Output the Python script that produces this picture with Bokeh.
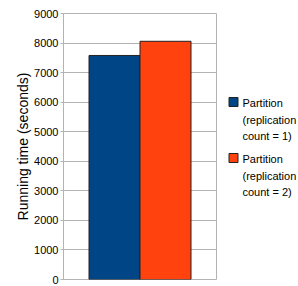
from bokeh.plotting import figure
from bokeh.models import ColumnDataSource, Range1d, FixedTicker
from bokeh.layouts import row
from bokeh.core.properties import value
from bokeh.embed import file_html
from bokeh.resources import INLINE

# data
series = ["Partition\n(replication\ncount = 1)", "Partition\n(replication\ncount = 2)"]
running_time = [7580, 8060]
bar_pos = [1, 2]
colors = ["#004586", "#ff420e"]
y_ticks = [0, 1000, 2000, 3000, 4000, 5000, 6000, 7000, 8000, 9000]

FONT = "Liberation Sans"
GRID = "#b3b3b3"
EDGE = "#222222"

p = figure(title=None, frame_width=153, frame_height=266, output_backend="svg", toolbar_location=None,
           x_range=Range1d(0, 3), y_range=Range1d(0, 9000),
           min_border_left=63, min_border_right=2, min_border_top=13, min_border_bottom=7)

src = ColumnDataSource(dict(x=bar_pos, top=running_time, color=colors))
p.vbar(x="x", top="top", width=1, source=src, fill_color="color",
       line_color=EDGE, line_width=1)

p.xaxis.visible = False
p.xgrid.visible = False
p.ygrid.grid_line_color = GRID
p.outline_line_color = GRID
p.background_fill_color = "white"
p.border_fill_color = "white"

ya = p.yaxis[0]
ya.ticker = FixedTicker(ticks=y_ticks)
ya.axis_line_color = GRID
ya.major_tick_line_color = GRID
ya.major_tick_out = 3
ya.major_tick_in = 0
ya.minor_tick_line_color = None
ya.major_label_text_font = FONT
ya.major_label_text_font_size = "11px"
ya.major_label_text_color = "black"
ya.major_label_standoff = 2
ya.axis_label = "Running time (seconds)"
ya.axis_label_text_font = FONT
ya.axis_label_text_font_size = "14px"
ya.axis_label_text_font_style = "normal"
ya.axis_label_text_color = "black"
ya.axis_label_standoff = 0

# legend panel (pixel-like coordinates, y downwards)
lg = figure(title=None, frame_width=80, frame_height=286, output_backend="svg", toolbar_location=None,
            x_range=Range1d(218, 298), y_range=Range1d(286, 0),
            x_axis_type=None, y_axis_type=None, min_border=0)
lg.grid.visible = False
lg.outline_line_color = None
lg.background_fill_color = "white"
lg.border_fill_color = "white"

item_top = [84 + 56 * i for i in range(len(series))]
lsrc = ColumnDataSource(dict(
    sx=[233] * len(series), sy=[t + 4.5 for t in item_top],
    tx=[242] * len(series), ty=[t - 0.5 for t in item_top],
    color=colors, label=series))
lg.rect(x="sx", y="sy", width=9, height=9, source=lsrc, fill_color="color",
        line_color=EDGE, line_width=1)
lg.text(x="tx", y="ty", text="label", source=lsrc, text_font=value(FONT),
        text_font_size="11px", text_baseline="top", text_align="left",
        text_line_height=1.38, text_color="black")

open("out.html", "w").write(file_html(row(p, lg), INLINE))
